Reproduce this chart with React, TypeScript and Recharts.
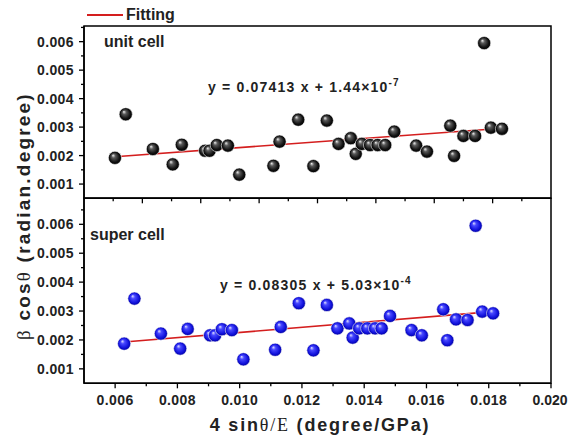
import React from "react";
import { ScatterChart, Scatter, XAxis, YAxis, ReferenceArea } from "recharts";

// unit cell panel (top)
const unitX = [
  0.00506, 0.00543, 0.00636, 0.00704, 0.00735, 0.00815, 0.0083, 0.00855,
  0.00893, 0.00932, 0.01049, 0.0107, 0.01134, 0.01186, 0.01232, 0.01272,
  0.01314, 0.01331, 0.01352, 0.0138, 0.01406, 0.01432, 0.01463, 0.01538,
  0.01575, 0.01655, 0.01668, 0.017, 0.0174, 0.01771, 0.01794, 0.01832,
];
const unitY = [
  0.00192, 0.00345, 0.00223, 0.00169, 0.00238, 0.00217, 0.00217, 0.00237,
  0.00235, 0.00133, 0.00164, 0.00249, 0.00326, 0.00163, 0.00323, 0.00241,
  0.00261, 0.00206, 0.00241, 0.00237, 0.00237, 0.00237, 0.00284, 0.00235,
  0.00214, 0.00305, 0.00199, 0.00269, 0.00269, 0.00595, 0.00298, 0.00294,
];
const unitFitX = [0.00506, 0.01835];
const unitFitY = [0.00196, 0.00296];

// super cell panel (bottom)
const superX = [
  0.00629, 0.00662, 0.00747, 0.00809, 0.00833, 0.00905, 0.00921, 0.00943,
  0.00975, 0.01012, 0.01114, 0.01132, 0.0119, 0.01237, 0.0128, 0.01314,
  0.01352, 0.01363, 0.01384, 0.0141, 0.01435, 0.01456, 0.01483, 0.01552,
  0.01585, 0.01654, 0.01667, 0.01695, 0.01732, 0.01758, 0.01779, 0.01814,
];
const superY = [
  0.00187, 0.00343, 0.00222, 0.0017, 0.00238, 0.00216, 0.00216, 0.00237,
  0.00234, 0.00133, 0.00166, 0.00245, 0.00327, 0.00164, 0.00321, 0.0024,
  0.00257, 0.00208, 0.0024, 0.0024, 0.0024, 0.0024, 0.00283, 0.00234,
  0.00216, 0.00306, 0.00199, 0.00271, 0.00269, 0.00595, 0.00298, 0.00292,
];
const superFitX = [0.00629, 0.01812];
const superFitY = [0.00193, 0.00298];

const topXTicks = [
  0.005, 0.006, 0.007, 0.008, 0.009, 0.01, 0.011, 0.012, 0.013, 0.014, 0.015,
  0.016, 0.017, 0.018, 0.019,
];
const bottomXTicks = [
  0.006, 0.007, 0.008, 0.009, 0.01, 0.011, 0.012, 0.013, 0.014, 0.015, 0.016,
  0.017, 0.018, 0.019, 0.02,
];
const yTicks = [
  0.001, 0.0015, 0.002, 0.0025, 0.003, 0.0035, 0.004, 0.0045, 0.005, 0.0055,
  0.006, 0.0065,
];

const zip = (xs: number[], ys: number[]) => xs.map((x, i) => ({ x, y: ys[i] }));

const SANS = "'Liberation Sans', Arial, sans-serif";
const SERIF = "'Liberation Serif', 'Times New Roman', serif";
const RED = "#d41e1e";

const onStep = (v: number, step: number) =>
  Math.abs(v / step - Math.round(v / step)) < 1e-6;

const YTick = ({ x, y, payload }: any) => {
  const v = payload.value;
  const major = onStep(v, 0.001);
  return (
    <g>
      <line x1={x} x2={x - (major ? 5 : 3)} y1={y} y2={y} stroke="#000" strokeWidth={1.3} />
      {major && (
        <text x={x - 10} y={y + 5} textAnchor="end" fontFamily={SANS} fontWeight="bold" fontSize={14} letterSpacing={0.4} fill="#222">
          {v.toFixed(3)}
        </text>
      )}
    </g>
  );
};

const TopXTick = ({ x, y, payload }: any) => {
  const major = onStep(payload.value, 0.002);
  return <line x1={x} x2={x} y1={y} y2={y + (major ? 5 : 3)} stroke="#000" strokeWidth={1.3} />;
};

const BottomXTick = ({ x, y, payload }: any) => {
  const v = payload.value;
  const major = onStep(v, 0.002);
  const last = v === bottomXTicks[bottomXTicks.length - 1];
  return (
    <g>
      <line x1={x} x2={x} y1={y} y2={y + (major ? 5 : 3)} stroke="#000" strokeWidth={1.3} />
      {major && (
        <text
          x={last ? x + 16.5 : x}
          y={y + 22}
          textAnchor={last ? "end" : "middle"}
          fontFamily={SANS}
          fontWeight="bold"
          fontSize={14}
          letterSpacing={last ? 0 : 0.4}
          fill="#222"
        >
          {v.toFixed(3)}
        </text>
      )}
    </g>
  );
};

const ball = (grad: string) => (p: any) => (
  <circle cx={p.cx} cy={p.cy} r={6.6} fill={`url(#${grad})`} stroke="#fff" strokeWidth={0.6} />
);
const noDot = () => <g />;

const Panel = ({ height, margin, xAxisHeight, xDomain, yDomain, xTicks, xTick, pts, fit, grad }: any) => (
  <ScatterChart width={568} height={height} margin={margin}>
    <XAxis
      type="number"
      dataKey="x"
      domain={xDomain}
      ticks={xTicks}
      interval={0}
      height={xAxisHeight}
      tickSize={0}
      tickMargin={0}
      tickLine={false}
      tick={xTick}
      axisLine={{ stroke: "#000", strokeWidth: 1.5 }}
      allowDataOverflow
    />
    <YAxis
      type="number"
      dataKey="y"
      domain={yDomain}
      ticks={yTicks}
      interval={0}
      width={84}
      tickSize={0}
      tickMargin={0}
      tickLine={false}
      tick={YTick}
      axisLine={{ stroke: "#000", strokeWidth: 1.5 }}
      allowDataOverflow
    />
    <ReferenceArea
      x1={xDomain[0]}
      x2={xDomain[1]}
      y1={yDomain[0]}
      y2={yDomain[1]}
      fill="none"
      stroke="#000"
      strokeWidth={1.5}
      ifOverflow="extendDomain"
    />
    <Scatter data={fit} line={{ stroke: RED, strokeWidth: 1.6 }} shape={noDot} isAnimationActive={false} />
    <Scatter data={pts} shape={ball(grad)} isAnimationActive={false} />
  </ScatterChart>
);

export default function App() {
  const text = { fontFamily: SANS, fontWeight: "bold" as const, fill: "#222" };
  return (
    <div style={{ position: "absolute", left: 0, top: 0, width: 568, height: 439, background: "#fff" }}>
      <svg width={568} height={439} style={{ position: "absolute", left: 0, top: 0 }}>
        <defs>
          <radialGradient id="ballK" cx="50%" cy="50%" r="50%" fx="35%" fy="30%">
            <stop offset="0" stopColor="#f2f2f2" />
            <stop offset="0.3" stopColor="#5a5a5a" />
            <stop offset="0.75" stopColor="#111" />
            <stop offset="1" stopColor="#000" />
          </radialGradient>
          <radialGradient id="ballB" cx="50%" cy="50%" r="50%" fx="35%" fy="30%">
            <stop offset="0" stopColor="#e4e4ff" />
            <stop offset="0.3" stopColor="#4848ff" />
            <stop offset="0.75" stopColor="#1212dc" />
            <stop offset="1" stopColor="#0000a0" />
          </radialGradient>
        </defs>
      </svg>
      <div style={{ position: "absolute", left: 0, top: 0 }}>
        <Panel
          height={439}
          margin={{ top: 198.3, right: 17, bottom: 25.7, left: 0 }}
          xAxisHeight={30}
          xDomain={[0.005, 0.02]}
          yDomain={[0.0005, 0.0069]}
          xTicks={bottomXTicks}
          xTick={BottomXTick}
          pts={zip(superX, superY)}
          fit={zip(superFitX, superFitY)}
          grad="ballB"
        />
      </div>
      <div style={{ position: "absolute", left: 0, top: 0 }}>
        <Panel
          height={215}
          margin={{ top: 26, right: 17, bottom: 6.7, left: 0 }}
          xAxisHeight={10}
          xDomain={[0.004, 0.02]}
          yDomain={[0.0005, 0.00655]}
          xTicks={topXTicks}
          xTick={TopXTick}
          pts={zip(unitX, unitY)}
          fit={zip(unitFitX, unitFitY)}
          grad="ballK"
        />
      </div>
      <svg width={568} height={439} style={{ position: "absolute", left: 0, top: 0, pointerEvents: "none" }}>
        <line x1={87} x2={123} y1={15} y2={15} stroke={RED} strokeWidth={2} />
        <text x={126} y={20} fontSize={16} {...text}>Fitting</text>
        <text x={104} y={47} fontSize={16} {...text}>unit cell</text>
        <text x={90} y={240} fontSize={16} {...text}>super cell</text>
        <text x={208} y={92} fontSize={14} letterSpacing={1.2} {...text}>
          y = 0.07413 x + 1.44×10<tspan dy={-6} fontSize={10}>-7</tspan>
        </text>
        <text x={220} y={290} fontSize={14} letterSpacing={1.2} {...text}>
          y = 0.08305 x + 5.03×10<tspan dy={-6} fontSize={10}>-4</tspan>
        </text>
        <text x={320} y={431} textAnchor="middle" fontSize={18} letterSpacing={1.8} {...text}>
          4 sin<tspan fontFamily={SERIF} fontWeight="normal">θ/E</tspan> (degree/GPa)
        </text>
        <text transform="translate(30,216) rotate(-90)" textAnchor="middle" fontSize={19} letterSpacing={2.2} {...text}>
          <tspan fontFamily={SERIF} fontWeight="normal">β</tspan> cos<tspan fontFamily={SERIF} fontWeight="normal">θ</tspan> (radian.degree)
        </text>
      </svg>
    </div>
  );
}
